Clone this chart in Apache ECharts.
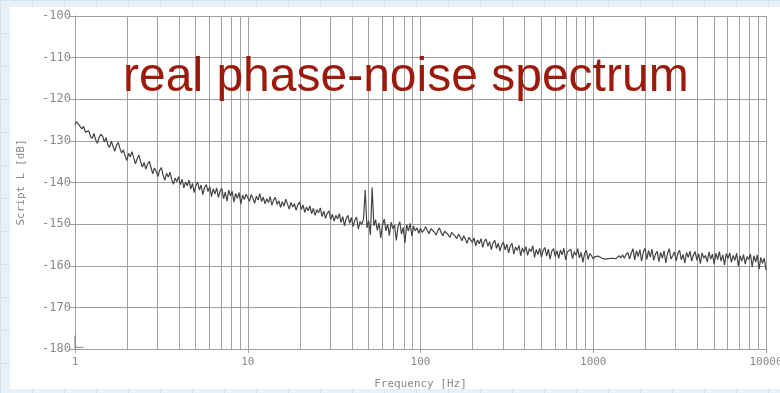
<!DOCTYPE html>
<html>
<head>
<meta charset="utf-8">
<script src="https://cdn.jsdelivr.net/npm/echarts@6/dist/echarts.min.js"></script>
<style>
  html, body {
    margin: 0;
    padding: 0;
    width: 780px;
    height: 393px;
    overflow: hidden;
    background-color: #e9f1f8;
    background-image:
      linear-gradient(to right, #d3e3f0 1px, transparent 1px),
      linear-gradient(to bottom, #d3e3f0 1px, transparent 1px);
    background-size: 32px 33px;
  }
  #chart {
    position: absolute;
    left: 0;
    top: 0;
    width: 780px;
    height: 393px;
  }
</style>
</head>
<body>
<div id="chart"></div>
<script>
// frequency grid: mantissas inside one decade (100 per decade), repeated for every decade
const decades = [1, 10, 100, 1000];
const mantissa = [1.000, 1.023, 1.047, 1.072, 1.096, 1.122, 1.148, 1.175, 1.202, 1.230,
  1.259, 1.288, 1.318, 1.349, 1.380, 1.413, 1.445, 1.479, 1.514, 1.549,
  1.585, 1.622, 1.660, 1.698, 1.738, 1.778, 1.820, 1.862, 1.905, 1.950,
  1.995, 2.042, 2.089, 2.138, 2.188, 2.239, 2.291, 2.344, 2.399, 2.455,
  2.512, 2.570, 2.630, 2.692, 2.754, 2.818, 2.884, 2.951, 3.020, 3.090,
  3.162, 3.236, 3.311, 3.388, 3.467, 3.548, 3.631, 3.715, 3.802, 3.890,
  3.981, 4.074, 4.169, 4.266, 4.365, 4.467, 4.571, 4.677, 4.786, 4.898,
  5.012, 5.129, 5.248, 5.370, 5.495, 5.623, 5.754, 5.888, 6.026, 6.166,
  6.310, 6.457, 6.607, 6.761, 6.918, 7.079, 7.244, 7.413, 7.586, 7.762,
  7.943, 8.128, 8.318, 8.511, 8.710, 8.913, 9.120, 9.333, 9.550, 9.772];

// phase noise [dB], one array per decade
const noise1to10 = [-126.2, -125.4, -126.0, -125.7, -127.1, -126.5, -127.9, -128.3, -127.6, -128.9,
  -129.4, -128.2, -129.8, -130.6, -129.1, -128.4, -128.9, -130.3, -129.2, -130.9,
  -131.6, -130.1, -131.3, -132.5, -131.0, -130.4, -131.8, -132.9, -132.2, -133.6,
  -134.7, -133.0, -133.8, -132.6, -134.1, -135.5, -134.3, -133.4, -135.0, -136.3,
  -135.2, -136.8, -135.6, -134.9, -136.4, -137.9, -136.5, -137.3, -138.6, -137.1,
  -136.4, -138.2, -139.5, -137.8, -138.7, -137.5, -139.3, -140.4, -138.9, -139.8,
  -138.6, -140.5, -139.2, -141.3, -139.9, -140.8, -139.4, -141.6, -140.2, -142.4,
  -140.7, -139.9, -141.8, -140.6, -142.9, -141.2, -140.5, -142.2, -141.0, -143.4,
  -141.5, -142.8, -141.3, -143.6, -142.0, -141.4, -143.9, -142.3, -144.5, -141.8,
  -143.2, -142.1, -144.7, -142.6, -143.8, -142.4, -145.2, -143.0, -144.1, -142.8];
const noise10to100 = [-143.6, -144.5, -142.9, -143.8, -145.0, -143.3, -144.2, -142.7, -144.6, -143.5,
  -145.1, -143.9, -144.8, -143.4, -145.5, -144.1, -143.6, -145.3, -144.4, -146.0,
  -144.6, -145.7, -144.0, -145.2, -146.4, -144.8, -145.9, -145.1, -146.7, -145.3,
  -144.7, -146.5, -145.4, -147.2, -145.9, -146.8, -145.6, -147.5, -146.2, -147.9,
  -146.5, -147.3, -146.1, -148.2, -146.9, -148.6, -147.4, -146.8, -148.9, -147.6,
  -149.3, -147.9, -148.7, -147.5, -149.6, -148.2, -150.4, -148.6, -147.9, -149.8,
  -148.4, -150.6, -149.0, -148.3, -151.2, -149.4, -150.1, -148.8, -141.8, -150.9,
  -149.2, -152.6, -141.2, -150.4, -148.9, -151.5, -149.7, -153.3, -150.2, -148.8,
  -151.6, -150.0, -152.8, -149.5, -151.1, -150.3, -153.9, -150.6, -149.4, -152.4,
  -150.8, -154.5, -150.1, -151.7, -149.8, -152.9, -150.5, -151.6, -150.9, -152.2];
const noise100to1k = [-151.0, -152.0, -151.4, -150.6, -151.5, -152.3, -151.1, -150.8, -151.9, -152.6,
  -151.6, -150.9, -152.1, -152.8, -151.7, -151.3, -152.5, -153.2, -152.0, -151.6,
  -152.9, -153.5, -152.4, -153.1, -154.0, -152.8, -153.6, -154.6, -153.2, -152.9,
  -154.4, -153.3, -155.2, -153.8, -154.7, -153.5, -155.6, -154.1, -153.6, -155.3,
  -154.2, -156.1, -154.5, -153.9, -155.8, -154.6, -156.5, -155.0, -154.3, -156.2,
  -154.8, -156.9, -155.3, -154.6, -157.2, -155.5, -156.3, -155.1, -157.6, -155.7,
  -156.8, -155.4, -157.5, -155.9, -156.6, -155.2, -158.0, -156.1, -157.3, -155.8,
  -157.9, -156.3, -155.6, -157.7, -156.0, -158.4, -156.5, -155.9, -157.8, -156.4,
  -158.2, -156.2, -157.4, -155.8, -158.6, -156.7, -157.1, -156.0, -158.3, -156.6,
  -157.5, -155.9, -158.1, -156.8, -159.2, -157.0, -156.3, -158.5, -157.1, -157.6];
const noise1kto10k = [-158.4, -157.8, -157.5, -157.7, -158.0, -158.2, -158.1, -158.4, -158.6, -158.3,
  -158.5, -158.2, -157.9, -158.3, -158.0, -157.6, -158.1, -157.4, -158.2, -157.3,
  -156.8, -158.4, -157.0, -155.9, -158.6, -156.4, -157.8, -156.1, -158.9, -156.7,
  -155.8, -158.5, -156.3, -157.9, -156.0, -158.7, -157.2, -156.5, -159.0, -156.8,
  -158.2, -156.4, -159.3, -157.1, -155.9, -158.4, -157.6, -156.7, -158.8, -157.0,
  -156.3, -158.6, -157.3, -159.4, -156.8, -158.0, -156.5, -158.9, -157.4, -156.6,
  -158.7, -157.1, -159.5, -156.9, -158.2, -157.5, -159.1, -156.7, -158.4, -157.2,
  -159.6, -157.0, -158.5, -156.6, -158.9, -157.4, -159.8, -157.1, -158.3, -156.9,
  -159.2, -157.5, -158.7, -157.0, -160.1, -157.6, -158.9, -157.3, -159.6, -157.8,
  -158.5, -157.2, -160.3, -157.6, -159.1, -157.4, -160.8, -158.0, -159.4, -158.2];
const lastPoint = [10000, -161.0];

// little glitch drawn at 1 Hz on the bottom edge
const startMark = [[1, -180.4], [1, -176.8], [1.01, -179.6], [1.12, -179.6]];

// 2..9 sub-decade grid lines
const minorSteps = [2, 3, 4, 5, 6, 7, 8, 9];

const yTicks = { min: -180, max: -100, step: 10 };

const noiseByDecade = [noise1to10, noise10to100, noise100to1k, noise1kto10k];
const seriesData = [];
decades.forEach((d, k) => {
  mantissa.forEach((m, i) => {
    seriesData.push([+(m * d).toPrecision(4), noiseByDecade[k][i]]);
  });
});
seriesData.push(lastPoint);

const minorLines = [];
decades.forEach(d => minorSteps.forEach(s => minorLines.push({ xAxis: s * d })));

const gridColor = '#a0a0a0';
const textColor = '#8a8a8a';
const plotFont = 'DejaVu Sans Mono';

const chartDom = document.getElementById('chart');
const myChart = echarts.init(chartDom, null, { renderer: 'canvas' });

const option = {
  animation: false,
  backgroundColor: 'transparent',
  graphic: [
    {
      type: 'rect',
      left: 10,
      top: 7,
      z: -10,
      shape: { width: 770, height: 382 },
      style: { fill: '#ffffff' },
    },
    {
      type: 'text',
      left: 123,
      top: 54,
      z: 100,
      style: {
        text: 'real phase-noise spectrum',
        font: '48px "Liberation Sans", Arial, sans-serif',
        fill: '#9b1a0b',
      },
    },
  ],
  grid: {
    left: 75,
    right: 14,
    top: 16,
    bottom: 44,
    outerBoundsMode: 'none',
  },
  xAxis: {
    type: 'log',
    logBase: 10,
    min: 1,
    max: 10000,
    name: 'Frequency [Hz]',
    nameLocation: 'middle',
    nameGap: 30,
    nameTextStyle: { color: textColor, fontFamily: plotFont, fontSize: 11 },
    axisLine: { show: true, lineStyle: { color: gridColor, width: 1 } },
    axisTick: { show: true, length: 4, lineStyle: { color: gridColor } },
    axisLabel: {
      color: textColor,
      fontFamily: plotFont,
      fontSize: 11,
      margin: 8,
      formatter: v => String(Math.round(v)),
    },
    splitLine: { show: true, lineStyle: { color: gridColor, width: 1 } },
  },
  yAxis: {
    type: 'value',
    min: yTicks.min,
    max: yTicks.max,
    interval: yTicks.step,
    name: 'Script L [dB]',
    nameLocation: 'middle',
    nameGap: 48,
    nameTextStyle: { color: textColor, fontFamily: plotFont, fontSize: 11 },
    axisLine: { show: true, lineStyle: { color: gridColor, width: 1 } },
    axisTick: { show: true, length: 5, lineStyle: { color: gridColor } },
    axisLabel: {
      color: textColor,
      fontFamily: plotFont,
      fontSize: 12,
      margin: 4,
    },
    splitLine: { show: true, lineStyle: { color: gridColor, width: 1 } },
  },
  series: [
    {
      name: 'L(f)',
      type: 'line',
      data: seriesData,
      showSymbol: false,
      symbol: 'none',
      lineStyle: { color: '#454545', width: 1.2 },
      z: 5,
      markLine: {
        silent: true,
        symbol: 'none',
        label: { show: false },
        lineStyle: { color: gridColor, width: 1, type: 'solid' },
        data: minorLines,
        z: 1,
      },
    },
    {
      name: 'start',
      type: 'line',
      data: startMark,
      showSymbol: false,
      symbol: 'none',
      lineStyle: { color: '#8a8a8a', width: 1 },
      z: 4,
    },
  ],
};
myChart.setOption(option);
</script>
</body>
</html>
